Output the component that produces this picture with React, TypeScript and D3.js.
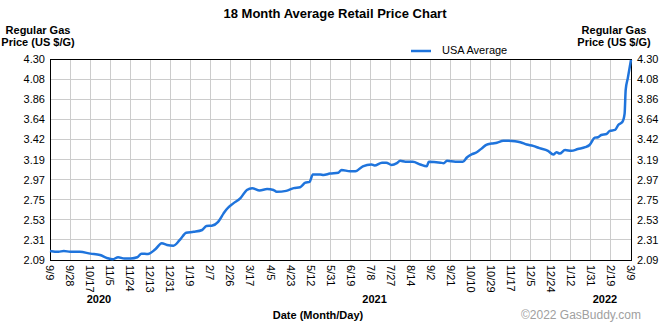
import React from "react";
import * as d3 from "d3";

const dates: string[] = [
  "2020-09-09","2020-09-17","2020-09-22","2020-09-28","2020-10-07","2020-10-17","2020-10-26","2020-11-02","2020-11-07","2020-11-12",
  "2020-11-18","2020-11-24","2020-11-30","2020-12-04","2020-12-10","2020-12-17","2020-12-23","2020-12-28","2021-01-03","2021-01-09",
  "2021-01-15","2021-01-22","2021-01-30","2021-02-03","2021-02-08","2021-02-14","2021-02-19","2021-02-22","2021-02-28","2021-03-07",
  "2021-03-13","2021-03-18","2021-03-25","2021-04-01","2021-04-07","2021-04-10","2021-04-19","2021-04-26","2021-05-02","2021-05-07",
  "2021-05-11","2021-05-14","2021-05-21","2021-05-24","2021-05-30","2021-06-07","2021-06-10","2021-06-18","2021-06-23","2021-06-30",
  "2021-07-08","2021-07-11","2021-07-18","2021-07-22","2021-07-27","2021-08-01","2021-08-04","2021-08-09","2021-08-16","2021-08-23",
  "2021-08-29","2021-08-31","2021-09-11","2021-09-14","2021-09-17","2021-09-25","2021-10-02","2021-10-06","2021-10-10","2021-10-15",
  "2021-10-20","2021-10-24","2021-10-29","2021-11-03","2021-11-09","2021-11-14","2021-11-20","2021-11-25","2021-12-01","2021-12-07",
  "2021-12-13","2021-12-21","2021-12-26","2021-12-29","2022-01-01","2022-01-06","2022-01-12","2022-01-18","2022-01-25","2022-01-29",
  "2022-02-03","2022-02-06","2022-02-09","2022-02-14","2022-02-17","2022-02-22","2022-02-25","2022-03-01","2022-03-03","2022-03-04",
  "2022-03-06","2022-03-09"
];

const prices: number[] = [
  2.19,2.18,2.19,2.18,2.18,2.16,2.145,2.11,2.098,2.12,
  2.107,2.107,2.12,2.16,2.156,2.208,2.274,2.255,2.247,2.31,
  2.39,2.40,2.42,2.464,2.467,2.51,2.60,2.648,2.71,2.77,
  2.86,2.88,2.855,2.87,2.86,2.84,2.85,2.88,2.89,2.94,
  2.95,3.03,3.03,3.025,3.04,3.05,3.08,3.065,3.065,3.12,
  3.14,3.13,3.16,3.16,3.135,3.155,3.18,3.17,3.17,3.14,
  3.12,3.17,3.16,3.155,3.18,3.17,3.17,3.22,3.25,3.275,
  3.32,3.355,3.37,3.38,3.40,3.40,3.395,3.385,3.36,3.345,
  3.32,3.29,3.25,3.275,3.26,3.30,3.29,3.31,3.33,3.355,
  3.435,3.44,3.465,3.475,3.51,3.52,3.575,3.61,3.70,3.96,
  4.09,4.29
];

const yTicks: string[] = ["2.09","2.31","2.53","2.75","2.97","3.19","3.42","3.64","3.86","4.08","4.30"];

const xTickLabels: string[] = [
  "9/9","9/28","10/17","11/5","11/24","12/13","12/31","1/19","2/7","2/26",
  "3/17","4/5","4/23","5/12","5/31","6/19","7/8","7/27","8/14","9/2",
  "9/21","10/10","10/29","11/17","12/5","12/24","1/12","1/31","2/19","3/9"
];

const yearLabels: string[] = ["2020", "2021", "2022"];
const yearLabelTickPos: number[] = [2.44, 16.2, 27.7];

const FONT = "'Liberation Sans', Arial, Helvetica, sans-serif";

export default function App() {
  const W = 670, H = 325;
  const L = 50, R = 631, T = 59, B = 260;
  const parse = d3.timeParse("%Y-%m-%d");
  const data = dates.map((d, i) => ({ date: parse(d) as Date, v: prices[i] }));
  const x = d3.scaleTime().domain([parse(dates[0]) as Date, parse(dates[dates.length - 1]) as Date]).range([L, R]);
  const y = d3.scaleLinear().domain([2.09, 4.30]).range([B, T]);
  const xi = d3.scaleLinear().domain([0, xTickLabels.length - 1]).range([L, R]);
  const line = d3.line<{ date: Date; v: number }>().x(d => x(d.date)).y(d => y(d.v)).curve(d3.curveMonotoneX);

  return (
    <svg width={W} height={H} style={{ position: "absolute", left: 0, top: 0, background: "#fff" }} fontFamily={FONT}>
      <rect x={0} y={0} width={W} height={H} fill="#fff" />
      <text x={335} y={18} textAnchor="middle" fontSize={13} fontWeight="bold" fill="#000">18 Month Average Retail Price Chart</text>
      <text x={38} y={34} textAnchor="middle" fontSize={11} fontWeight="bold">Regular Gas</text>
      <text x={38} y={46} textAnchor="middle" fontSize={11} fontWeight="bold">Price (US $/G)</text>
      <text x={614} y={34} textAnchor="middle" fontSize={11} fontWeight="bold">Regular Gas</text>
      <text x={614} y={46} textAnchor="middle" fontSize={11} fontWeight="bold">Price (US $/G)</text>
      <line x1={411} x2={431} y1={51} y2={51} stroke="#1f74dc" strokeWidth={2.5} />
      <text x={442} y={54} fontSize={11}>USA Average</text>

      {xTickLabels.map((t, i) => (
        <line key={"vg" + i} x1={xi(i)} x2={xi(i)} y1={T} y2={B} stroke="#cccccc" strokeWidth={1} shapeRendering="crispEdges" />
      ))}
      {yTicks.map((t, i) => (
        <line key={"hg" + i} x1={L} x2={R} y1={y(+t)} y2={y(+t)} stroke="#cccccc" strokeWidth={1} shapeRendering="crispEdges" />
      ))}
      <rect x={L} y={T} width={R - L} height={B - T} fill="none" stroke="#000" strokeWidth={1} shapeRendering="crispEdges" />

      {yTicks.map((t, i) => (
        <g key={"yl" + i}>
          <text x={45} y={y(+t)} dy="0.35em" textAnchor="end" fontSize={11}>{t}</text>
          <text x={637} y={y(+t)} dy="0.35em" textAnchor="start" fontSize={11}>{t}</text>
        </g>
      ))}

      {xTickLabels.map((t, i) => (
        <text key={"xl" + i} transform={`translate(${xi(i)},${265}) rotate(90)`} dy="0.35em" fontSize={11}>{t}</text>
      ))}

      {yearLabels.map((t, i) => (
        <text key={"yr" + i} x={xi(yearLabelTickPos[i])} y={303} textAnchor="middle" fontSize={11} fontWeight="bold">{t}</text>
      ))}

      <text x={318} y={319} textAnchor="middle" fontSize={11} fontWeight="bold">Date (Month/Day)</text>
      <text x={641} y={319} textAnchor="end" fontSize={12} fill="#a0a0a0">©2022 GasBuddy.com</text>

      <path d={line(data) || ""} fill="none" stroke="#1f74dc" strokeWidth={2.5} strokeLinejoin="round" />
    </svg>
  );
}
